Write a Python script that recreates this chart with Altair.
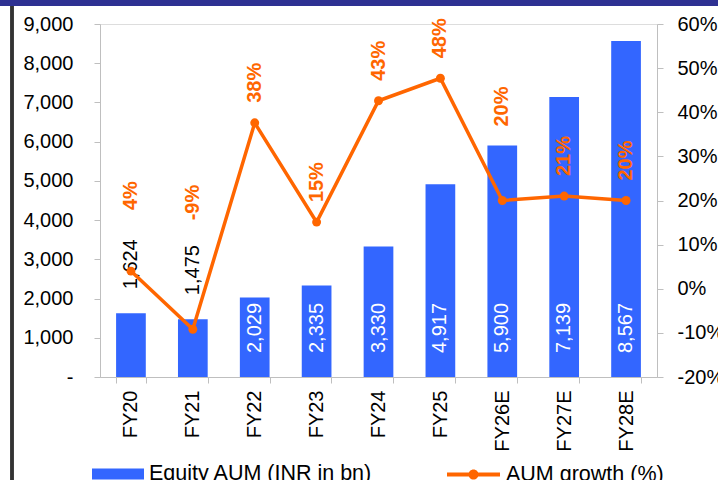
import altair as alt
import pandas as pd

# ---- data ----
years = ["FY20", "FY21", "FY22", "FY23", "FY24", "FY25", "FY26E", "FY27E", "FY28E"]
aum = [1624, 1475, 2029, 2335, 3330, 4917, 5900, 7139, 8567]
growth = [4.0, -9.2, 37.6, 15.1, 42.6, 47.7, 20.0, 21.0, 20.0]
bar_name = "Equity AUM (INR in bn)"
line_name = "AUM growth (%)"
left_ticks = [0, 1000, 2000, 3000, 4000, 5000, 6000, 7000, 8000, 9000]
right_ticks = [-20, -10, 0, 10, 20, 30, 40, 50, 60]

# ---- styling ----
BLUE = "#3366FF"
ORANGE = "#FF6600"
AXIS = "#BFBFBF"
NAVY = "#2E3192"
FONT = "Liberation Sans"
outside_bar_labels = ["FY20", "FY21"]          # bar labels drawn above short bars
pct_label_lift = {"FY20": 61, "FY21": 109, "FY26E": 74}  # label nudges (px)
default_lift = 20

df = pd.DataFrame({
    "year": years,
    "aum": aum,
    "growth": growth,
    "bar_series": bar_name,
    "line_series": line_name,
})

x_enc = alt.X(
    "year:N", sort=years,
    scale=alt.Scale(paddingInner=0.52, paddingOuter=0.26),
    axis=alt.Axis(title=None, labelAngle=270, labelAlign="right", labelBaseline="middle",
                  labelFontSize=20, labelColor="black", labelPadding=7,
                  tickBand="extent", tickSize=6, domainColor=AXIS, tickColor=AXIS),
)

left_axis = alt.Axis(
    title=None, values=left_ticks, grid=False, labelFontSize=20, labelColor="black",
    labelExpr="datum.value == 0 ? '-\u00a0\u00a0' : format(datum.value, ',')",
    tickSize=6, labelPadding=21, domainColor=AXIS, tickColor=AXIS,
)
left_scale = alt.Scale(domain=[0, 9000], nice=False)

right_axis = alt.Axis(
    title=None, values=right_ticks, grid=False, orient="right", labelFontSize=20,
    labelColor="black", labelExpr="datum.value + '%'",
    tickSize=6, labelPadding=14, domainColor=AXIS, tickColor=AXIS,
)
right_scale = alt.Scale(domain=[-20, 60], nice=False, zero=False)

base = alt.Chart(df)

bars = base.mark_bar().encode(
    x=x_enc,
    y=alt.Y("aum:Q", scale=left_scale, axis=left_axis),
    color=alt.Color(
        "bar_series:N",
        scale=alt.Scale(domain=[bar_name], range=[BLUE]),
        legend=alt.Legend(
            title=None, orient="none", legendX=-8, legendY=424,
            symbolType="M-1,-0.21H1V0.21H-1Z", symbolSize=2704, symbolStrokeWidth=0,
            labelFontSize=21.5, labelColor="black", labelOffset=5, labelLimit=400,
        ),
    ),
)

bar_labels_in = base.transform_filter(
    alt.FieldOneOfPredicate(field="year", oneOf=outside_bar_labels).__invert__()
).transform_calculate(
    lab="format(datum.aum, ',')", base0="0"
).mark_text(
    angle=270, align="left", baseline="middle", fontSize=20, color="white", dx=24
).encode(
    x=x_enc,
    y=alt.Y("base0:Q", scale=left_scale, axis=left_axis),
    text="lab:N",
)

bar_labels_out = base.transform_filter(
    alt.FieldOneOfPredicate(field="year", oneOf=outside_bar_labels)
).transform_calculate(
    lab="format(datum.aum, ',')"
).mark_text(
    angle=270, align="left", baseline="middle", fontSize=20, color="black", dx=24
).encode(
    x=x_enc,
    y=alt.Y("aum:Q", scale=left_scale, axis=left_axis),
    text="lab:N",
)

top_band = alt.Chart(df).mark_rule(color=NAVY, strokeWidth=6).encode(
    x=alt.value(-100), x2=alt.value(618), y=alt.value(-21)
)
left_line = alt.Chart(df).mark_rule(color="#333333", strokeWidth=2.5).encode(
    x=alt.value(-88), y=alt.value(-18), y2=alt.value(460)
)

left = alt.layer(bars, bar_labels_in, bar_labels_out, top_band, left_line)

y_right = alt.Y("growth:Q", scale=right_scale, axis=right_axis)

line = base.mark_line(color=ORANGE, strokeWidth=3.5).encode(x=x_enc, y=y_right)

points = base.mark_point(filled=True, size=80, opacity=1).encode(
    x=x_enc,
    y=y_right,
    color=alt.Color(
        "line_series:N",
        scale=alt.Scale(domain=[line_name], range=[ORANGE]),
        legend=alt.Legend(
            title=None, orient="none", legendX=347, legendY=424,
            symbolType="M-1,-0.08H1V0.08H-1Z M0.19,0A0.19,0.19 0 1 1 -0.19,0A0.19,0.19 0 1 1 0.19,0Z",
            symbolSize=2809, symbolStrokeWidth=0, symbolOpacity=1,
            labelFontSize=21.5, labelColor="black", labelOffset=6, labelLimit=400,
        ),
    ),
)

pct_layers = []
special = list(pct_label_lift.keys())
normal = base.transform_filter(
    alt.FieldOneOfPredicate(field="year", oneOf=special).__invert__()
).transform_calculate(
    lab="round(datum.growth) + '%'"
).mark_text(
    angle=270, align="left", baseline="middle", fontSize=20, fontWeight="bold",
    color=ORANGE, dx=default_lift,
).encode(x=x_enc, y=y_right, text="lab:N")
pct_layers.append(normal)
for yr, lift in pct_label_lift.items():
    pct_layers.append(
        base.transform_filter(alt.datum.year == yr).transform_calculate(
            lab="round(datum.growth) + '%'"
        ).mark_text(
            angle=270, align="left", baseline="middle", fontSize=20, fontWeight="bold",
            color=ORANGE, dx=lift,
        ).encode(x=x_enc, y=y_right, text="lab:N")
    )

right = alt.layer(line, points, *pct_layers)

chart = alt.layer(left, right).resolve_scale(
    y="independent", color="independent"
).properties(
    width=557, height=353,
    autosize=alt.AutoSizeParams(type="none"),
    padding={"left": 100, "top": 24, "right": 61, "bottom": 103},
    background="white",
).configure_view(stroke=None).configure(
    font=FONT
).configure_axis(labelFont=FONT).configure_legend(labelFont=FONT, padding=0)

chart.save("out.html", embed_options={"renderer": "svg", "actions": False})
